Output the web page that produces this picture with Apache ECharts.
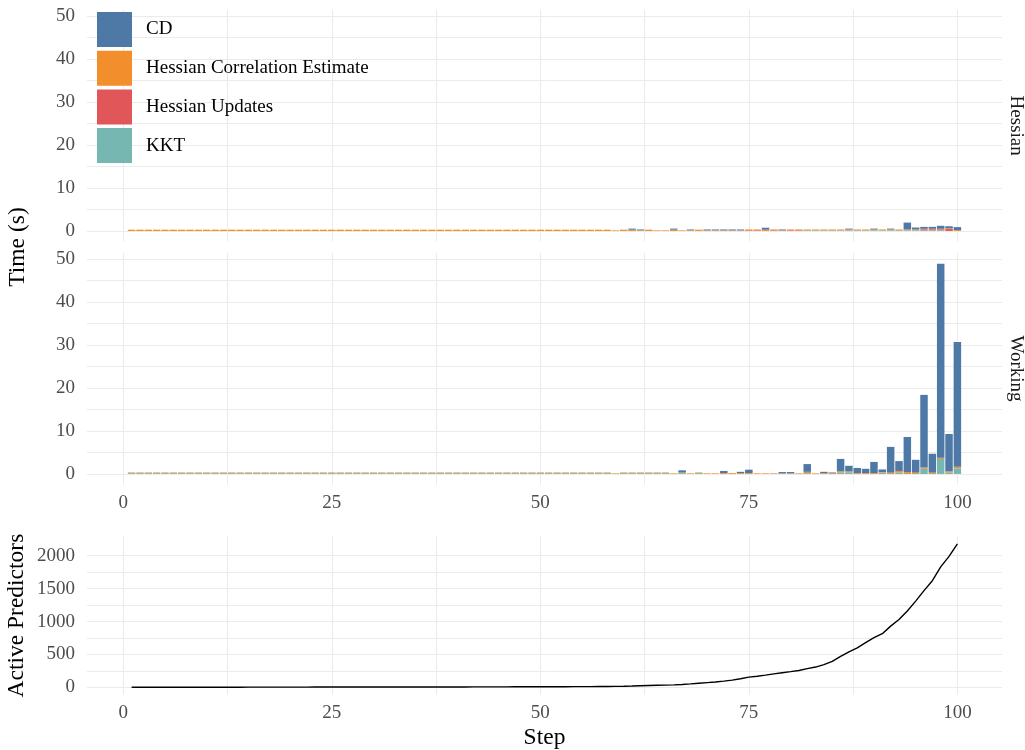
<!DOCTYPE html>
<html><head><meta charset="utf-8">
<script src="https://cdn.jsdelivr.net/npm/echarts@6/dist/echarts.min.js"></script>
<style>html,body{margin:0;padding:0;background:#fff}#c{width:1025px;height:750px}</style>
</head><body><div id="c"></div>
<script>
// ---------- DATA ----------
const steps = Array.from({length: 100}, (_, i) => i + 1);
const seriesNames = ['CD', 'Hessian Correlation Estimate', 'Hessian Updates', 'KKT'];
const facetNames = ['Hessian', 'Working'];
const xTickLabels = [0, 25, 50, 75, 100];
const xGridValues = [0, 12.5, 25, 37.5, 50, 62.5, 75, 87.5, 100];
const timeTickLabels = [0, 10, 20, 30, 40, 50];
const timeGridValues = [0, 5, 10, 15, 20, 25, 30, 35, 40, 45, 50];
const predTickLabels = [0, 500, 1000, 1500, 2000];
const predGridValues = [0, 250, 500, 750, 1000, 1250, 1500, 1750, 2000];

// Hessian facet (seconds)
const hessCD = [
  0,0,0,0,0,0,0,0,0,0,
  0,0,0,0,0,0,0,0,0,0,
  0,0,0,0,0,0,0,0,0,0,
  0,0,0,0,0,0,0,0,0,0,
  0,0,0,0,0,0,0,0,0,0,
  0,0,0,0,0,0,0,0,0,0,
  0.25,0.2,0,0,0,0.25,0,0.2,0,0.2,
  0.2,0.2,0.2,0.2,0,0,0.45,0,0.2,0,
  0,0,0,0,0,0,0.2,0,0,0.2,
  0,0.2,0,1.6,0.45,0.45,0.45,0.7,0.45,0.7
];
const hessHCE = [
  0.3,0.3,0.3,0.3,0.3,0.3,0.3,0.3,0.3,0.3,
  0.3,0.3,0.3,0.3,0.3,0.3,0.3,0.3,0.3,0.3,
  0.3,0.3,0.3,0.3,0.3,0.3,0.3,0.3,0.3,0.3,
  0.3,0.3,0.3,0.3,0.3,0.3,0.3,0.3,0.3,0.3,
  0.3,0.3,0.3,0.3,0.3,0.3,0.3,0.3,0.3,0.3,
  0.3,0.3,0.3,0.3,0.3,0.3,0.3,0.3,0.15,0.3,
  0.3,0.15,0.3,0.15,0.15,0.3,0.15,0.15,0.3,0.15,
  0.15,0.15,0.15,0.15,0.2,0.2,0.3,0.2,0.15,0.2,
  0.2,0.2,0.2,0.2,0.2,0.2,0.2,0.2,0.2,0.2,
  0.2,0.2,0.2,0.2,0.2,0.1,0.1,0.1,0.2,0.2
];
const hessHU = [
  0,0,0,0,0,0,0,0,0,0,
  0,0,0,0,0,0,0,0,0,0,
  0,0,0,0,0,0,0,0,0,0,
  0,0,0,0,0,0,0,0,0,0,
  0,0,0,0,0,0,0,0,0,0,
  0,0,0,0,0,0,0,0,0,0,
  0,0,0,0,0,0,0,0,0,0,
  0,0,0,0,0.15,0.15,0,0.15,0,0.15,
  0.15,0,0,0,0,0,0,0,0,0,
  0,0,0,0,0,0.25,0.25,0.25,0.45,0
];
const hessKKT = [
  0,0,0,0,0,0,0,0,0,0,
  0,0,0,0,0,0,0,0,0,0,
  0,0,0,0,0,0,0,0,0,0,
  0,0,0,0,0,0,0,0,0,0,
  0,0,0,0,0,0,0,0,0,0,
  0,0,0,0,0,0,0,0,0,0,
  0,0,0,0,0,0,0,0,0,0,
  0,0,0,0,0,0,0,0,0,0,
  0,0.15,0.15,0.15,0.15,0.15,0.15,0.15,0.15,0.15,
  0.15,0.15,0.15,0.15,0.15,0.15,0.15,0.15,0,0
];
// Working facet (seconds)
const workCD = [
  0,0,0,0,0,0,0,0,0,0,
  0,0,0,0,0,0,0,0,0,0,
  0,0,0,0,0,0,0,0,0,0,
  0,0,0,0,0,0,0,0,0,0,
  0,0,0,0,0,0,0,0,0,0,
  0,0,0,0,0,0,0,0,0,0,
  0,0,0,0,0,0,0.5,0,0,0,
  0,0.5,0,0.3,0.8,0,0,0,0.3,0.3,
  0,1.8,0,0.3,0.15,2.9,1.3,1.2,1.0,2.6,
  0.6,6.0,2.3,8.2,3.0,16.9,4.4,45.1,8.7,29.0
];
const workHCE = [
  0.15,0.15,0.15,0.15,0.15,0.15,0.15,0.15,0.15,0.15,
  0.15,0.15,0.15,0.15,0.15,0.15,0.15,0.15,0.15,0.15,
  0.15,0.15,0.15,0.15,0.15,0.15,0.15,0.15,0.15,0.15,
  0.15,0.15,0.15,0.15,0.15,0.15,0.15,0.15,0.15,0.15,
  0.15,0.15,0.15,0.15,0.15,0.15,0.15,0.15,0.15,0.15,
  0.15,0.15,0.15,0.15,0.15,0.15,0.15,0.15,0.15,0.15,
  0.15,0.15,0.15,0.15,0.15,0.15,0.15,0.15,0.15,0.15,
  0.15,0.2,0.2,0.2,0.2,0.15,0.15,0.15,0.15,0.15,
  0.15,0.3,0.15,0.2,0.2,0.3,0.2,0.2,0.2,0.2,
  0.15,0.3,0.4,0.4,0.3,0.3,0.3,0.3,0.3,0.4
];
const workHU = [
  0,0,0,0,0,0,0,0,0,0,
  0,0,0,0,0,0,0,0,0,0,
  0,0,0,0,0,0,0,0,0,0,
  0,0,0,0,0,0,0,0,0,0,
  0,0,0,0,0,0,0,0,0,0,
  0,0,0,0,0,0,0,0,0,0,
  0,0,0,0,0,0,0,0,0,0,
  0,0,0,0,0,0,0,0,0,0,
  0,0,0,0,0,0,0,0,0,0,
  0,0,0,0,0,0,0,0,0,0
];
const workKKT = [
  0.2,0.2,0.2,0.2,0.2,0.2,0.2,0.2,0.2,0.2,
  0.2,0.2,0.2,0.2,0.2,0.2,0.2,0.2,0.2,0.2,
  0.2,0.2,0.2,0.2,0.2,0.2,0.2,0.2,0.2,0.2,
  0.2,0.2,0.2,0.2,0.2,0.2,0.2,0.2,0.2,0.2,
  0.2,0.2,0.2,0.2,0.2,0.2,0.2,0.2,0.2,0.2,
  0.2,0.2,0.2,0.2,0.2,0.2,0.2,0.2,0,0.2,
  0.2,0.2,0.2,0.2,0.2,0,0.2,0,0.2,0,
  0,0,0,0,0,0,0,0,0,0,
  0,0.2,0,0,0,0.3,0.4,0,0,0,
  0.3,0,0.3,0,0,1.2,0,3.5,0.3,1.3
];
// Active predictors
const activePredictors = [
  1,1,1,1,1,2,2,2,2,2,
  2,2,2,2,3,3,3,3,3,3,
  3,3,4,4,4,4,4,4,5,5,
  5,5,5,5,5,6,6,6,6,6,
  6,7,7,7,7,7,8,8,8,8,
  9,9,9,10,10,11,12,13,15,17,
  20,25,28,31,34,38,43,52,62,72,
  82,95,110,130,155,168,185,205,222,238,
  255,285,308,345,395,470,540,600,680,755,
  815,930,1030,1160,1310,1470,1620,1830,1990,2180
];

// ---------- STYLE ----------
const colors = {'CD':'#4e79a7','Hessian Correlation Estimate':'#f28e2b','Hessian Updates':'#e15759','KKT':'#76b7b2'};
const SERIF = '"Liberation Serif","DejaVu Serif","Times New Roman",serif';
const gridColor = '#ebebeb';

const chart = echarts.init(document.getElementById('c'), null, {renderer:'canvas'});

function xAxisFor(gi, labels) {
  return {
    type:'value', gridIndex:gi, min:-4.35, max:105.35,
    axisLine:{show:false, onZero:false},
    axisTick:{show:false, customValues:xGridValues},
    axisLabel:{show:labels, customValues:xTickLabels, margin:9, color:'#4d4d4d', fontFamily:SERIF, fontSize:19, formatter:v => String(v)},
    splitLine:{show:true, lineStyle:{color:gridColor, width:1}}
  };
}
function yAxisFor(gi, min, max, labelVals, gridVals) {
  return {
    type:'value', gridIndex:gi, min:min, max:max,
    axisLine:{show:false, onZero:false},
    axisTick:{show:false, customValues:gridVals},
    axisLabel:{customValues:labelVals, margin:12, color:'#4d4d4d', fontFamily:SERIF, fontSize:19, formatter:v => String(v)},
    splitLine:{show:true, lineStyle:{color:gridColor, width:1}}
  };
}

const facetData = [
  {'CD':hessCD,'Hessian Correlation Estimate':hessHCE,'Hessian Updates':hessHU,'KKT':hessKKT},
  {'CD':workCD,'Hessian Correlation Estimate':workHCE,'Hessian Updates':workHU,'KKT':workKKT}
];
const stackOrder = ['KKT','Hessian Updates','Hessian Correlation Estimate','CD'];
const series = [];
facetData.forEach((fd, fi) => {
  stackOrder.forEach(name => {
    series.push({
      name:name, type:'bar', xAxisIndex:fi, yAxisIndex:fi, stack:'facet'+fi,
      barWidth:7.5, itemStyle:{color:colors[name]},
      // value first so that stacking happens on the time (y) dimension
      encode:{x:1, y:0},
      data: steps.map((s, i) => [fd[name][i], s])
    });
  });
});
series.push({
  name:'Active Predictors', type:'line', xAxisIndex:2, yAxisIndex:2,
  showSymbol:false, symbol:'none', lineStyle:{color:'#000', width:1.4}, itemStyle:{color:'#000'},
  data: steps.map((s, i) => [s, activePredictors[i]])
});

chart.setOption({
  animation:false,
  backgroundColor:'#fff',
  grid:[
    {left:87, top:9.8, width:915, height:231.7},
    {left:87, top:252.8, width:915, height:231.7},
    {left:87, top:536.7, width:915, height:157.8}
  ],
  xAxis:[xAxisFor(0,false), xAxisFor(1,true), xAxisFor(2,true)],
  yAxis:[
    yAxisFor(0,-2.45,51.45,timeTickLabels,timeGridValues),
    yAxisFor(1,-2.45,51.45,timeTickLabels,timeGridValues),
    yAxisFor(2,-109,2289,predTickLabels,predGridValues)
  ],
  legend:{
    data:seriesNames, orient:'vertical', left:97, top:12, padding:0,
    itemWidth:35, itemHeight:35, itemGap:3.7, icon:'rect',
    textStyle:{fontFamily:SERIF, fontSize:19, color:'#000', padding:[6,0,0,9]}
  },
  graphic:[
    {type:'text', x:18, y:247, rotation:Math.PI/2, style:{text:'Time (s)', fontFamily:SERIF, fontSize:23.5, fill:'#000', align:'center', verticalAlign:'middle'}},
    {type:'text', x:17, y:615.6, rotation:Math.PI/2, style:{text:'Active Predictors', fontFamily:SERIF, fontSize:23.5, fill:'#000', align:'center', verticalAlign:'middle'}},
    {type:'text', x:544.5, y:738, style:{text:'Step', fontFamily:SERIF, fontSize:23.5, fill:'#000', align:'center', verticalAlign:'middle'}},
    {type:'text', x:1016, y:125.7, rotation:-Math.PI/2, style:{text:facetNames[0], fontFamily:SERIF, fontSize:19, fill:'#1a1a1a', align:'center', verticalAlign:'middle'}},
    {type:'text', x:1016, y:368.6, rotation:-Math.PI/2, style:{text:facetNames[1], fontFamily:SERIF, fontSize:19, fill:'#1a1a1a', align:'center', verticalAlign:'middle'}}
  ],
  series:series
});
</script>
</body></html>
